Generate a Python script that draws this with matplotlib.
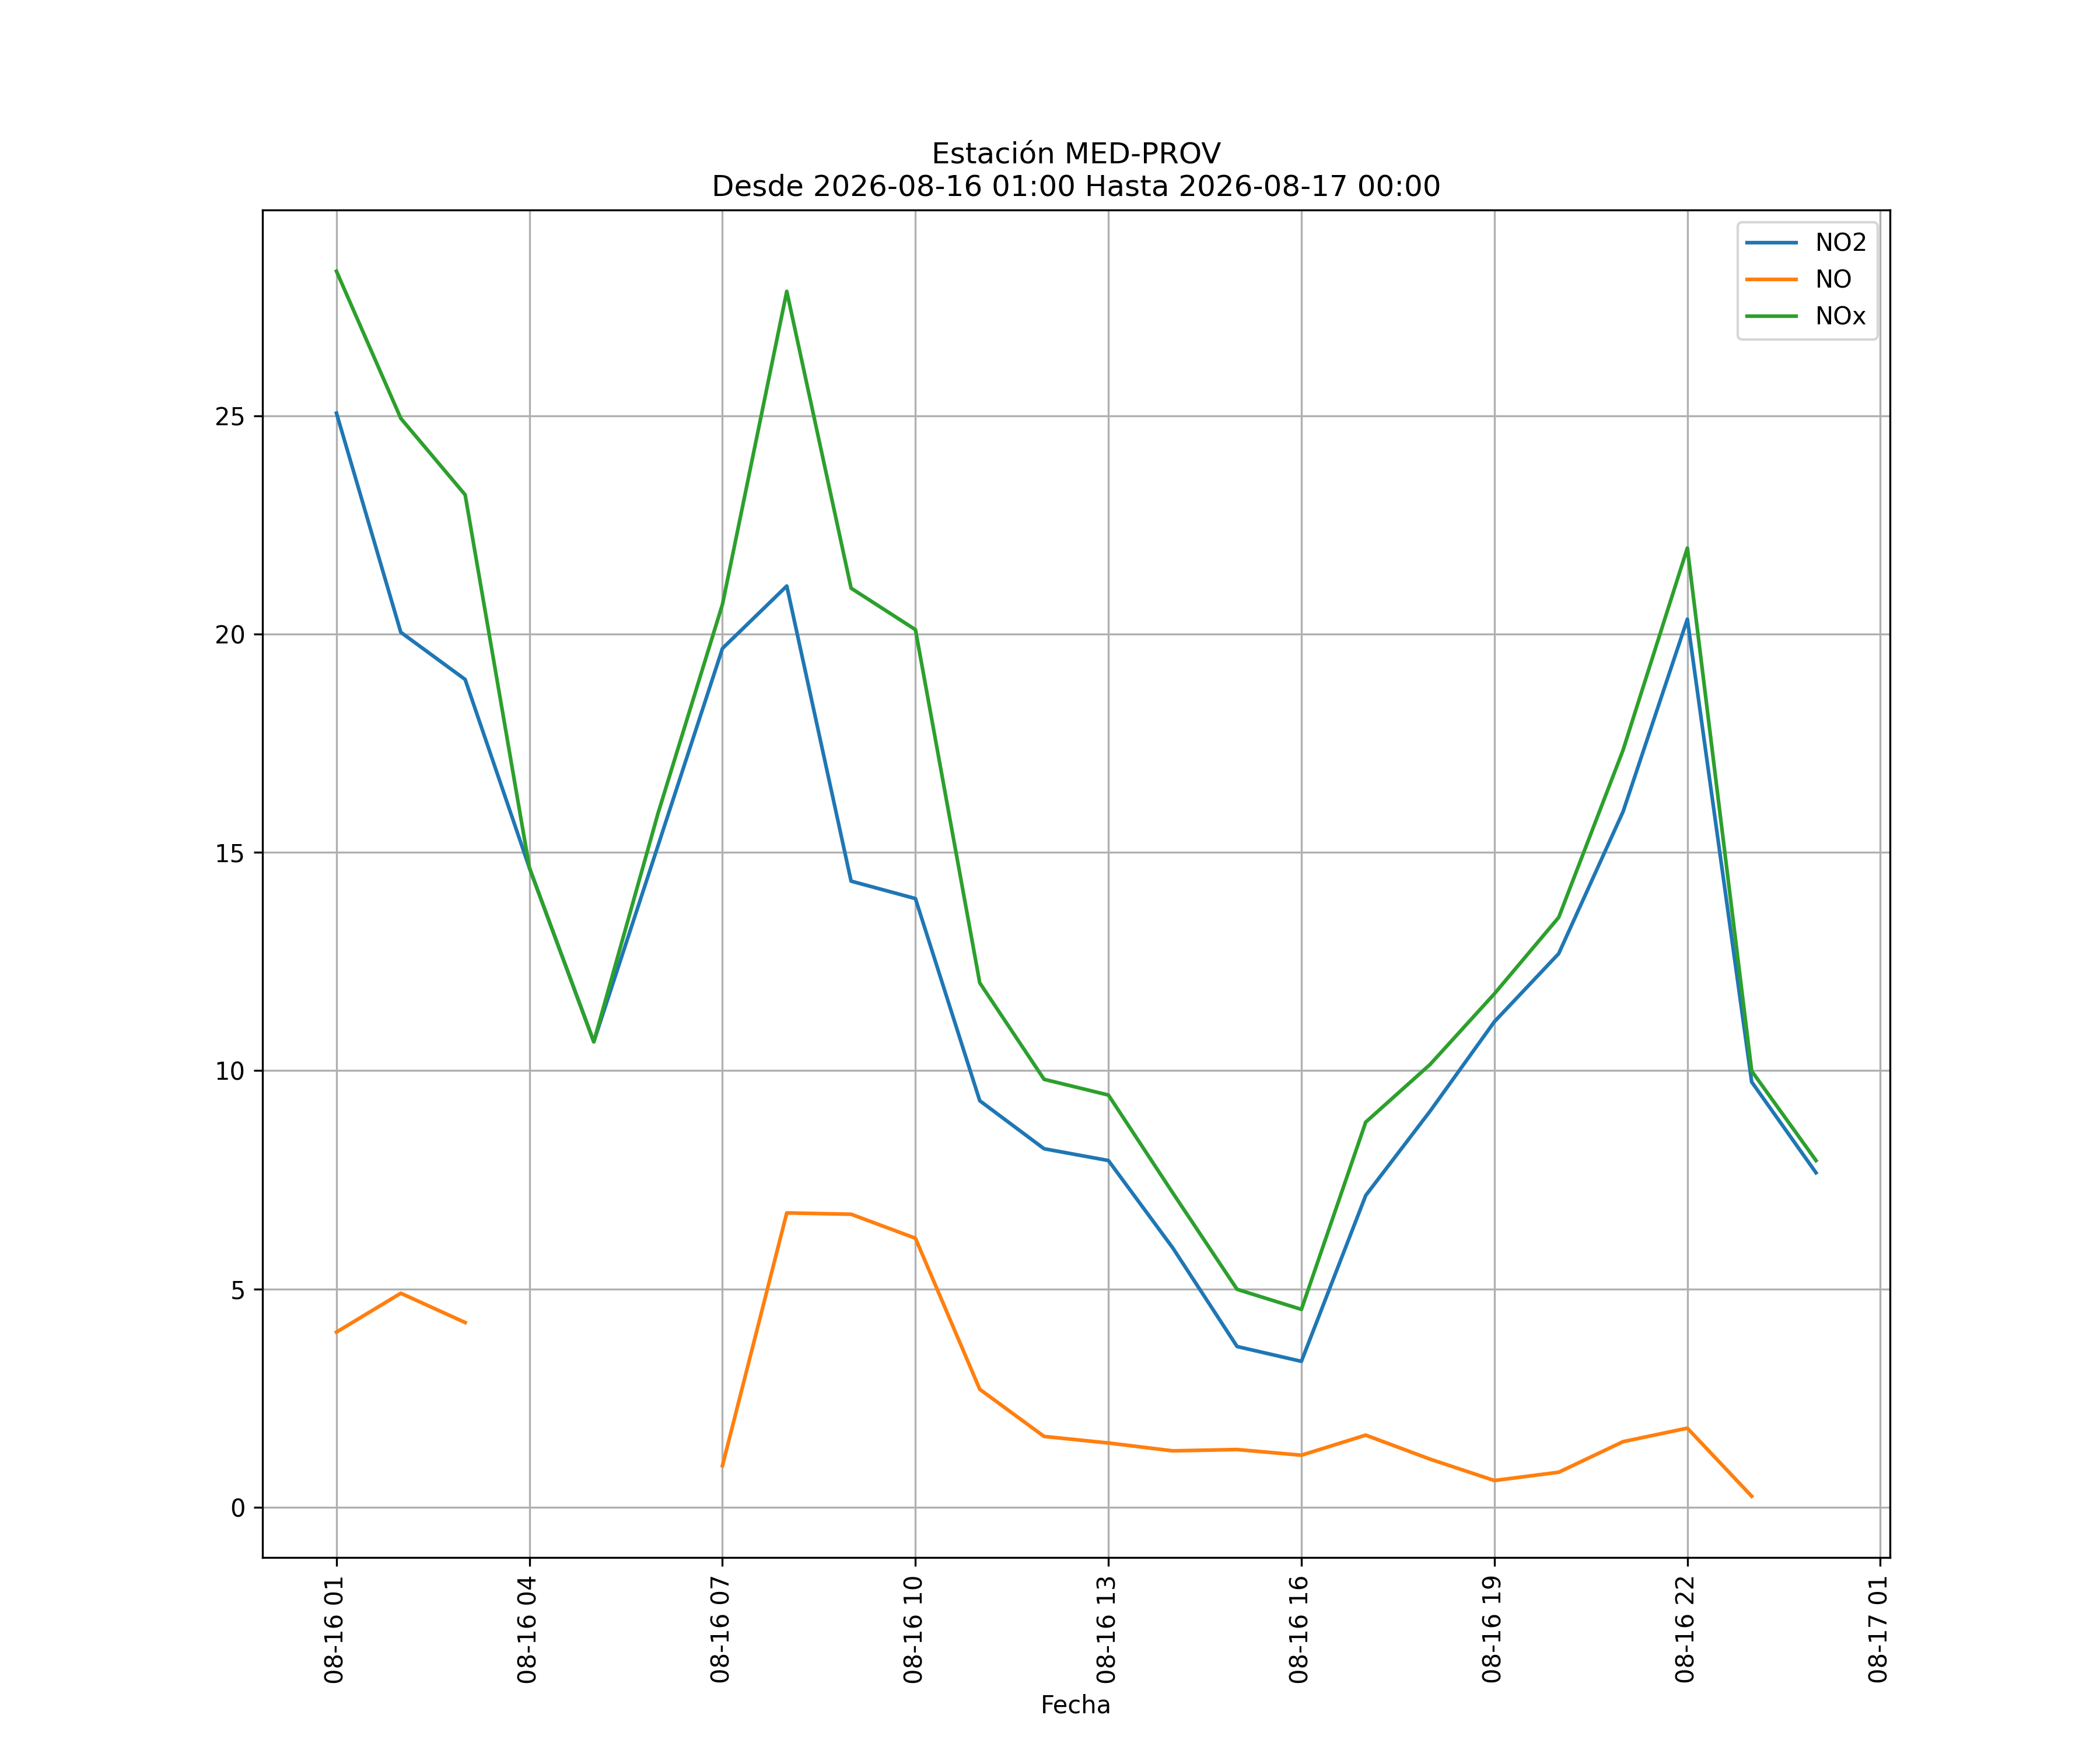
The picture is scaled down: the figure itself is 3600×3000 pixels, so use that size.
import numpy as np
import pandas as pd
import matplotlib
matplotlib.use('Agg')
import matplotlib.pyplot as plt
import matplotlib.dates as mdates

# Datos horarios de la estación
fechas = pd.date_range('2026-08-16 01:00', '2026-08-17 00:00', freq='h')

no2 = [25.06, 20.04, 18.96, 14.64, 10.66, 15.16, 19.67, 21.10, 14.34, 13.94,
       9.31, 8.21, 7.94, 5.94, 3.68, 3.34, 7.14, 9.07, 11.12, 12.68,
       15.93, 20.34, 9.74, 7.66]

no = [4.01, 4.90, 4.23, np.nan, np.nan, np.nan, 0.95, 6.74, 6.71, 6.16,
      2.70, 1.62, 1.47, 1.29, 1.32, 1.19, 1.65, 1.10, 0.61, 0.80,
      1.50, 1.81, 0.25, np.nan]

nox = [28.31, 24.94, 23.19, 14.64, 10.66, 15.90, 20.68, 27.85, 21.05, 20.10,
       12.01, 9.80, 9.44, 7.20, 4.99, 4.53, 8.82, 10.14, 11.76, 13.51,
       17.34, 21.97, 9.99, 7.94]

fig = plt.figure(figsize=(12, 10), dpi=300)
ax = fig.add_subplot(111)
ax.plot(fechas, no2, label='NO2')
ax.plot(fechas, no, label='NO')
ax.plot(fechas, nox, label='NOx')

# ticks cada 3 horas empezando en la 01
ax.xaxis.set_major_locator(mdates.HourLocator(byhour=range(1, 24, 3)))
ax.xaxis.set_major_formatter(mdates.DateFormatter('%m-%d %H'))

plt.title('Estación MED-PROV\nDesde 2026-08-16 01:00 Hasta 2026-08-17 00:00')
plt.xlabel('Fecha')
plt.xticks(rotation=90)
plt.legend(loc='upper right')
plt.grid(True)

plt.savefig('out.png', dpi=300)
